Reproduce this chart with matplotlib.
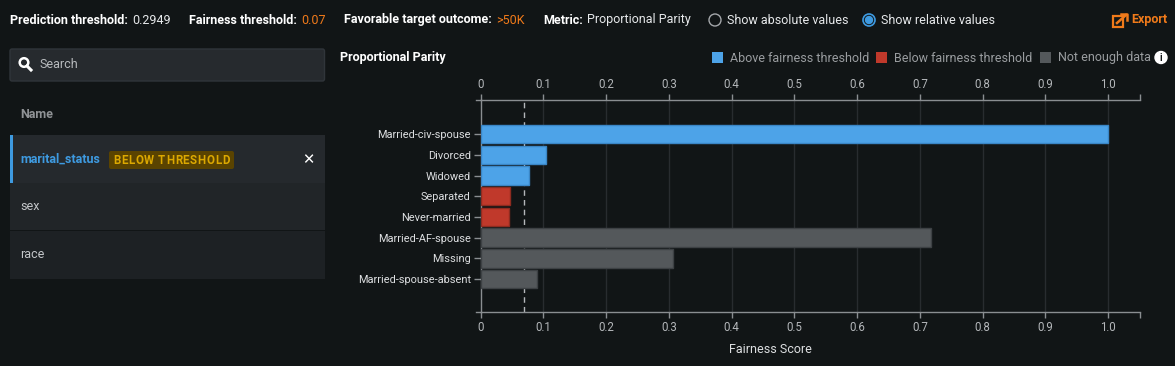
import numpy as np
import matplotlib
matplotlib.use("Agg")
import matplotlib.pyplot as plt
from matplotlib.patches import Rectangle, Circle, FancyBboxPatch
from matplotlib.transforms import Affine2D

# данные графика
categories = ["Married-civ-spouse", "Divorced", "Widowed", "Separated",
              "Never-married", "Married-AF-spouse", "Missing", "Married-spouse-absent"]
scores = [1.0, 0.104, 0.078, 0.047, 0.046, 0.717, 0.307, 0.090]
status = ["above", "above", "above", "below", "below", "nodata", "nodata", "nodata"]
fairness_threshold = 0.07
x_ticks = [0, 0.1, 0.2, 0.3, 0.4, 0.5, 0.6, 0.7, 0.8, 0.9, 1.0]
x_tick_labels = ["0", "0.1", "0.2", "0.3", "0.4", "0.5", "0.6", "0.7", "0.8", "0.9", "1.0"]
features = ["marital_status", "sex", "race"]

# цвета
bg = "#111516"
fill_col = {"above": "#4da3e8", "below": "#c0392b", "nodata": "#54585b"}
edge_col = {"above": "#3a86c6", "below": "#8e2b20", "nodata": "#3d4144"}
orange = "#f07a1a"
spine_col = "#8a8e91"
grid_col = "#282c2f"

plt.rcParams["font.family"] = ["Roboto", "DejaVu Sans"]

W, H = 1175, 366
fig = plt.figure(figsize=(W / 100, H / 100), dpi=100, facecolor=bg)
# пиксельные координаты, y вниз
T = Affine2D().scale(1 / W, -1 / H).translate(0, 1) + fig.transFigure


def txt(x, y, s, **kw):
    kw.setdefault("va", "center")
    kw.setdefault("fontsize", 9)
    return fig.text(x, y, s, transform=T, **kw)


# верхняя строка
txt(10, 20, "Prediction threshold:", color="white", fontweight="bold")
txt(132, 20, "0.2949", color="#e6e8ea")
txt(189, 20, "Fairness threshold:", color="white", fontweight="bold")
txt(301, 20, str(fairness_threshold), color=orange)
txt(344, 20, "Favorable target outcome:", color="white", fontweight="bold")
txt(496, 20, ">50K", color=orange)
txt(543, 20, "Metric:", color="white", fontweight="bold")
txt(587, 20, "Proportional Parity", color="#e6e8ea")

fig.patches.append(Circle((715, 20), 6, transform=T, fill=False, ec="#a4a7aa", lw=1))
txt(727, 20, "Show absolute values", color="#e6e8ea")
fig.patches.append(Circle((869, 20), 6, transform=T, fill=False, ec="#3e9ae0", lw=1.2))
fig.patches.append(Circle((869, 20), 3.5, transform=T, color="#3e9ae0"))
txt(881, 20, "Show relative values", color="#e6e8ea")

# иконка экспорта
fig.patches.append(Rectangle((1113, 16), 10, 11, transform=T, fill=False, ec=orange, lw=1.6))
fig.lines.append(plt.Line2D([1117, 1126], [23, 15], transform=T, color=orange, lw=1.8))
fig.lines.append(plt.Line2D([1121, 1127, 1127], [14, 14, 20], transform=T, color=orange, lw=1.8))
txt(1131, 20, "Export", color=orange, fontweight="bold")

# левая панель
fig.patches.append(FancyBboxPatch((10, 49), 314.5, 32, boxstyle="round,pad=0,rounding_size=2",
                                  transform=T, fc="#262a2e", ec="#30353a", lw=1))
fig.patches.append(Circle((24, 62.5), 4.3, transform=T, fill=False, ec="white", lw=1.8))
fig.lines.append(plt.Line2D([27, 31], [66, 70], transform=T, color="white", lw=2.2))
txt(39, 64, "Search", color="#b9bcbf")
txt(20, 115, "Name", color="#8f9295", fontweight="bold")

renderer = fig.canvas.get_renderer()
row_cols = ["#25292d", "#212528", "#1d2124"]
row_y = [135, 182.7, 231]
for i, name in enumerate(features):
    fig.patches.append(Rectangle((10, row_y[i]), 315, 47.7, transform=T, fc=row_cols[i], ec="none"))
    if i == 0:
        fig.patches.append(Rectangle((10, row_y[i]), 3, 47.7, transform=T, fc="#3e9ae0", ec="none"))
        txt(20, row_y[i] + 24, name, color="#3e9ae0", fontweight="bold")
        fig.patches.append(FancyBboxPatch((109, 151), 125, 18, boxstyle="round,pad=0,rounding_size=2",
                                          transform=T, fc="#5a4300", ec="none"))
        # текст с разрядкой
        badge = "BELOW THRESHOLD"
        chars = [txt(0, 160, c, color="#dca800", fontweight="bold", fontsize=8.3) for c in badge]
        widths = [c.get_window_extent(renderer).width if c.get_text() != " " else 3 for c in chars]
        spacing = (116.5 - sum(widths)) / (len(badge) - 1)
        cx = 113
        for c, w in zip(chars, widths):
            c.set_x(cx)
            cx += w + spacing
        txt(308, 159.5, "\u2715", color="white", fontweight="bold", fontsize=10.5, ha="center",
            family=["DejaVu Sans"])
    else:
        txt(20, row_y[i] + 24, name, color="#c4c7ca")

# заголовок и легенда
txt(340, 58, "Proportional Parity", color="white", fontweight="bold")
legend_items = [("above", "Above fairness threshold", 712, 730),
                ("below", "Below fairness threshold", 876, 894),
                ("nodata", "Not enough data", 1040, 1058)]
for key, label, sx, tx in legend_items:
    fig.patches.append(Rectangle((sx, 52), 11, 11, transform=T, fc=fill_col[key], ec="none"))
    txt(tx, 58, label, color="#9a9da0")
fig.patches.append(Circle((1161, 57.5), 6, transform=T, color="white"))
txt(1161, 58, "i", color=bg, fontweight="bold", fontsize=7, ha="center")

# график
ax = fig.add_axes([480.5 / W, 1 - 312 / H, 659 / W, 212 / H])
ax.set_facecolor(bg)
ypos = np.arange(len(categories))
ax.barh(ypos, scores, height=0.89,
        color=[fill_col[s] for s in status],
        edgecolor=[edge_col[s] for s in status], linewidth=1, zorder=3)
ax.axvline(fairness_threshold, color="#b4b7ba", linestyle=(0, (4, 3)), lw=1, zorder=2)
for xt in x_ticks[1:]:
    ax.axvline(xt, color=grid_col, lw=1, zorder=1)

ax.set_xlim(0, 1.05)
ax.set_ylim(8.59, -1.65)
ax.set_yticks(ypos, categories)
ax.set_xticks(x_ticks, x_tick_labels)
ax.set_xticks([1.05], minor=True)

for side in ["left", "top", "bottom"]:
    ax.spines[side].set_color(spine_col)
    ax.spines[side].set_linewidth(1)
ax.spines["right"].set_visible(False)

ax.tick_params(axis="x", which="both", top=True, bottom=True, labeltop=True,
               labelbottom=True, direction="out", length=4.5, width=1,
               color=spine_col, labelcolor="#b4b7ba", labelsize=8.3, pad=2)
ax.tick_params(axis="y", length=5, width=1, color=spine_col,
               labelcolor="#dcdee0", labelsize=7.9, pad=2)

# продолжение осей влево
for yy in (0, 1):
    ax.plot([-5 / 659, 0], [yy, yy], transform=ax.transAxes, color=spine_col,
            lw=1, clip_on=False)

ax.set_xlabel("Fairness Score", color="#dcdee0", fontsize=9)
ax.xaxis.set_label_coords(0.44, -0.145)

fig.savefig("out.png", dpi=100, facecolor=bg)
